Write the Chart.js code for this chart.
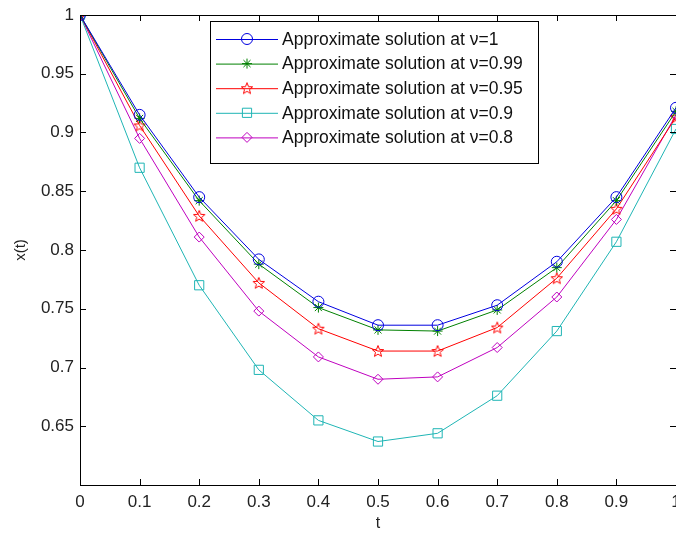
<!DOCTYPE html>
<html>
<head>
<meta charset="utf-8">
<script src="https://cdn.jsdelivr.net/npm/chart.js@4.4.0/dist/chart.umd.min.js"></script>
<style>
  html, body { margin: 0; padding: 0; background: #fff; }
  canvas { display: block; }
</style>
</head>
<body>
<canvas id="chart" width="676" height="533"></canvas>
<script>
// values
const tValues = [0, 0.1, 0.2, 0.3, 0.4, 0.5, 0.6, 0.7, 0.8, 0.9, 1];
const nu1    = [1, 0.915, 0.845, 0.792, 0.756, 0.736, 0.736, 0.753, 0.790, 0.845, 0.921];
const nu099  = [1, 0.912, 0.842, 0.788, 0.751, 0.732, 0.731, 0.749, 0.785, 0.842, 0.918];
const nu095  = [1, 0.906, 0.829, 0.772, 0.733, 0.714, 0.714, 0.734, 0.776, 0.835, 0.913];
const nu09   = [1, 0.870, 0.770, 0.698, 0.655, 0.637, 0.644, 0.676, 0.731, 0.807, 0.903];
const nu08   = [1, 0.895, 0.811, 0.748, 0.709, 0.690, 0.692, 0.717, 0.760, 0.826, 0.915];
const xTicks = [0, 0.1, 0.2, 0.3, 0.4, 0.5, 0.6, 0.7, 0.8, 0.9, 1];
const yTicks = [0.6, 0.65, 0.7, 0.75, 0.8, 0.85, 0.9, 0.95, 1];
const seriesNames = ['Approximate solution at \u03bd=1', 'Approximate solution at \u03bd=0.99',
  'Approximate solution at \u03bd=0.95', 'Approximate solution at \u03bd=0.9', 'Approximate solution at \u03bd=0.8'];

const FONT = '"Liberation Sans", Arial, sans-serif';

// pentagram marker, Chart.js has no such point style
function pentagram(color) {
    const c = document.createElement('canvas');
    c.width = 14; c.height = 14;
    const g = c.getContext('2d');
    g.strokeStyle = color;
    g.lineWidth = 1;
    g.beginPath();
    for (let i = 0; i < 10; i++) {
        const r = i % 2 === 0 ? 6 : 2.6;
        const a = -Math.PI / 2 + i * Math.PI / 5;
        const px = 7 + r * Math.cos(a), py = 7.5 + r * Math.sin(a);
        if (i === 0) g.moveTo(px, py); else g.lineTo(px, py);
    }
    g.closePath();
    g.stroke();
    return c;
}

function series(name, vals, color, style, radius) {
    return {
        label: name,
        data: tValues.map((t, i) => ({ x: t, y: vals[i] })),
        borderColor: color,
        backgroundColor: 'rgba(0,0,0,0)',
        pointBorderColor: color,
        pointBackgroundColor: 'rgba(0,0,0,0)',
        borderWidth: 1,
        pointBorderWidth: 1,
        pointStyle: style,
        pointRadius: radius,
        tension: 0
    };
}

const datasets = [
    series(seriesNames[0], nu1, '#0000e0', 'circle', 5.5),
    series(seriesNames[1], nu099, '#008000', 'star', 5),
    series(seriesNames[2], nu095, '#ff0000', pentagram('#ff0000'), 6),
    series(seriesNames[3], nu09, '#1fb5b5', 'rect', 6.5),
    series(seriesNames[4], nu08, '#bf00bf', 'rectRot', 5)
];

// MATLAB style box, inward ticks and legend
const matlabFrame = {
    id: 'matlabFrame',
    afterDraw(chart) {
        const ctx = chart.ctx;
        const a = chart.chartArea;
        const xs = chart.scales.x, ys = chart.scales.y;
        ctx.save();
        ctx.strokeStyle = '#000';
        ctx.lineWidth = 1;
        ctx.beginPath();
        ctx.rect(a.left + 0.5, a.top + 0.5, a.right - a.left, a.bottom - a.top);
        xTicks.forEach(v => {
            const px = Math.round(xs.getPixelForValue(v)) + 0.5;
            ctx.moveTo(px, a.bottom); ctx.lineTo(px, a.bottom - 6);
            ctx.moveTo(px, a.top); ctx.lineTo(px, a.top + 6);
        });
        yTicks.forEach(v => {
            const py = Math.round(ys.getPixelForValue(v)) + 0.5;
            ctx.moveTo(a.left, py); ctx.lineTo(a.left + 6, py);
            ctx.moveTo(a.right, py); ctx.lineTo(a.right - 6, py);
        });
        ctx.stroke();

        // legend box
        const lx = 210, ly = 21, lw = 328, lh = 142, rowH = 24.6;
        ctx.fillStyle = '#fff';
        ctx.fillRect(lx, ly, lw, lh);
        ctx.strokeRect(lx + 0.5, ly + 0.5, lw, lh);
        ctx.font = '17.5px ' + FONT;
        ctx.textBaseline = 'middle';
        chart.data.datasets.forEach((ds, i) => {
            const y = ly + 18 + i * rowH;
            ctx.strokeStyle = ds.borderColor;
            ctx.beginPath();
            ctx.moveTo(216, y + 0.5); ctx.lineTo(278, y + 0.5);
            ctx.stroke();
            ctx.fillStyle = 'rgba(0,0,0,0)';
            Chart.helpers.drawPoint(ctx, {
                pointStyle: ds.pointStyle, rotation: 0, radius: ds.pointRadius,
                borderWidth: 1
            }, 247, y);
            ctx.fillStyle = '#111';
            ctx.fillText(ds.label, 282, y + 1);
        });
        ctx.restore();
    }
};

new Chart(document.getElementById('chart'), {
    type: 'line',
    data: { datasets: datasets },
    options: {
        responsive: false,
        animation: false,
        layout: { autoPadding: false, padding: { top: 15, right: 0, left: 0, bottom: 0 } },
        plugins: { legend: { display: false }, tooltip: { enabled: false } },
        scales: {
            x: {
                type: 'linear', min: 0, max: 1,
                afterBuildTicks: s => { s.ticks = xTicks.map(v => ({ value: v })); },
                afterFit: s => { s.height = 48; s.paddingLeft = 0; s.paddingRight = 0; },
                grid: { display: false, drawTicks: false },
                border: { display: false },
                ticks: {
                    color: '#222', padding: 7, maxRotation: 0,
                    font: { family: FONT, size: 17 },
                    callback: v => String(v)
                },
                title: { display: true, text: 't', color: '#222', padding: 0,
                    font: { family: FONT, size: 16 } }
            },
            y: {
                type: 'linear', min: 0.6, max: 1,
                afterBuildTicks: s => { s.ticks = yTicks.map(v => ({ value: v })); },
                afterFit: s => { s.width = 80; s.paddingTop = 0; s.paddingBottom = 0; },
                grid: { display: false, drawTicks: false },
                border: { display: false },
                ticks: {
                    color: '#222', padding: 6,
                    font: { family: FONT, size: 17 },
                    callback: v => (v === 0.6 ? '' : String(v))
                },
                title: { display: true, text: 'x(t)', color: '#222', padding: { top: 12, bottom: 0 },
                    font: { family: FONT, size: 15 } }
            }
        }
    },
    plugins: [matlabFrame]
});
</script>
</body>
</html>
